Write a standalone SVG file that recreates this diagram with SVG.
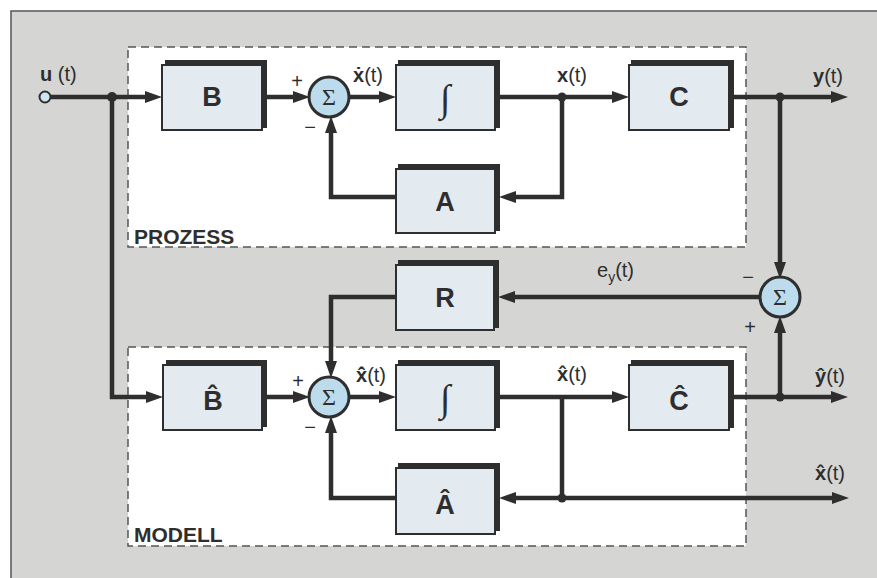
<svg xmlns="http://www.w3.org/2000/svg" width="877" height="578" viewBox="0 0 877 578">
<defs>
<marker id="ah" markerUnits="userSpaceOnUse" markerWidth="17" markerHeight="12" refX="8" refY="6" orient="auto"><path d="M0,0 L17,6 L0,12 z" fill="#2e2e2e"/></marker>
</defs>
<style>
.frame{fill:#d5d5d3;stroke:#555;stroke-width:1.5}
.zone{fill:#fff;stroke:#555;stroke-width:1.5;stroke-dasharray:8 5}
.sh{fill:#2e2e2e}
.box{fill:#e3eaf0;stroke:#2e2e2e;stroke-width:2}
.w{fill:none;stroke:#2e2e2e;stroke-width:4.5;stroke-linejoin:miter}
.a{marker-end:url(#ah)}
.dot{fill:#2e2e2e}
.sum{fill:#bcdcee;stroke:#2e2e2e;stroke-width:3}
.sig{font-family:"Liberation Serif","DejaVu Serif",serif;font-size:24px;fill:#2e2e2e;text-anchor:middle}
.bl{font-family:"Liberation Sans",Arial,sans-serif;font-weight:bold;font-size:27px;fill:#2e2e2e;text-anchor:middle}
.int{font-family:"Liberation Serif","DejaVu Serif",serif;font-size:38px;fill:#2e2e2e;text-anchor:middle}
.lb{font-family:"Liberation Sans",Arial,sans-serif;font-size:20px;fill:#2e2e2e}
.b{font-weight:bold}
.sg{font-family:"Liberation Sans",Arial,sans-serif;font-size:20px;fill:#2e2e2e;text-anchor:middle}
.zl{font-family:"Liberation Sans",Arial,sans-serif;font-weight:bold;font-size:21px;fill:#2e2e2e}
</style>
<rect class="frame" x="11" y="11" width="880" height="580"/>
<g id="prozess"><rect class="zone" x="128" y="47" width="618" height="200"/><text class="zl" x="134" y="244">PROZESS</text></g>
<g id="modell"><rect class="zone" x="128" y="347" width="618" height="199"/><text class="zl" x="134" y="542">MODELL</text></g>

<g id="connectors">
<path class="w a" d="M51,97 H153"/>
<path class="w a" d="M112,97 V397 H154"/>
<path class="w a" d="M267,97 H301"/>
<path class="w a" d="M349,97 H387"/>
<path class="w a" d="M500,97 H620"/>
<path class="w a" d="M562,97 V197 H508"/>
<path class="w a" d="M395,197 H331 V125"/>
<path class="w a" d="M734,97 H839"/>
<path class="w a" d="M780,97 V270"/>
<path class="w a" d="M760,297 H507"/>
<path class="w a" d="M395,297 H331 V369"/>
<path class="w a" d="M267,397 H301"/>
<path class="w a" d="M349,397 H387"/>
<path class="w a" d="M500,397 H620"/>
<path class="w" d="M562,397 V498"/>
<path class="w a" d="M562,498 H508"/>
<path class="w a" d="M562,498 H840"/>
<path class="w a" d="M395,498 H331 V425"/>
<path class="w a" d="M734,397 H839"/>
<path class="w a" d="M780,397 V325"/>
<circle class="dot" cx="112" cy="97" r="5"/>
<circle class="dot" cx="562" cy="97" r="4.5"/>
<circle class="dot" cx="780" cy="97" r="4.5"/>
<circle class="dot" cx="562" cy="498" r="4.5"/>
<circle class="dot" cx="780" cy="397" r="4.5"/>
</g>

<g id="u"><circle cx="45" cy="97" r="5.5" fill="#cfe5f2" stroke="#2e2e2e" stroke-width="2"/><text class="lb" x="40" y="81"><tspan class="b">u</tspan> (t)</text></g>

<g id="B"><rect class="sh" x="165" y="60" width="102" height="68"/><rect class="box" x="162" y="65" width="100" height="65"/><text class="bl" x="212" y="106">B</text></g>
<g id="S1"><circle class="sum" cx="329" cy="97" r="20"/><text class="sig" x="329" y="105">Σ</text><text class="sg" x="297" y="88">+</text><text class="sg" x="310" y="134">−</text></g>
<g id="I1"><rect class="sh" x="398" y="60" width="102" height="68"/><rect class="box" x="396" y="65" width="99" height="65"/><text class="int" x="445" y="111">∫</text></g>
<g id="A"><rect class="sh" x="398" y="164" width="102" height="67"/><rect class="box" x="396" y="169" width="99" height="64"/><text class="bl" x="445" y="211">A</text></g>
<g id="C"><rect class="sh" x="631" y="60" width="103" height="68"/><rect class="box" x="629" y="65" width="100" height="65"/><text class="bl" x="679" y="106">C</text></g>
<g id="R"><rect class="sh" x="398" y="260" width="101" height="68"/><rect class="box" x="396" y="265" width="98" height="65"/><text class="bl" x="445" y="307">R</text></g>
<g id="S2"><circle class="sum" cx="780" cy="297" r="20"/><text class="sig" x="780" y="305">Σ</text><text class="sg" x="748" y="284">−</text><text class="sg" x="750" y="334">+</text></g>

<g id="Bh"><rect class="sh" x="166" y="360" width="101" height="67"/><rect class="box" x="163" y="365" width="99" height="65"/><text class="bl" x="213" y="410">B̂</text></g>
<g id="S3"><circle class="sum" cx="329" cy="397" r="20"/><text class="sig" x="329" y="405">Σ</text><text class="sg" x="298" y="388">+</text><text class="sg" x="310" y="434">−</text></g>
<g id="I2"><rect class="sh" x="398" y="360" width="102" height="68"/><rect class="box" x="396" y="365" width="99" height="65"/><text class="int" x="445" y="411">∫</text></g>
<g id="Ah"><rect class="sh" x="398" y="463" width="102" height="68"/><rect class="box" x="396" y="468" width="99" height="66"/><text class="bl" x="445" y="514">Â</text></g>
<g id="Ch"><rect class="sh" x="631" y="360" width="103" height="68"/><rect class="box" x="629" y="365" width="100" height="65"/><text class="bl" x="679" y="410">Ĉ</text></g>

<g id="labels">
<text class="lb" x="353" y="82"><tspan class="b">ẋ</tspan>(t)</text>
<text class="lb" x="557" y="82"><tspan class="b">x</tspan>(t)</text>
<text class="lb" x="813" y="83"><tspan class="b">y</tspan>(t)</text>
<text class="lb" x="597" y="277">e<tspan font-size="14" dy="5">y</tspan><tspan dy="-5">(t)</tspan></text>
<text class="lb" x="356" y="382"><tspan class="b">ẋ̂</tspan>(t)</text>
<text class="lb" x="557" y="381"><tspan class="b">x̂</tspan>(t)</text>
<text class="lb" x="815" y="383"><tspan class="b">ŷ</tspan>(t)</text>
<text class="lb" x="815" y="480"><tspan class="b">x̂</tspan>(t)</text>
</g>
</svg>
